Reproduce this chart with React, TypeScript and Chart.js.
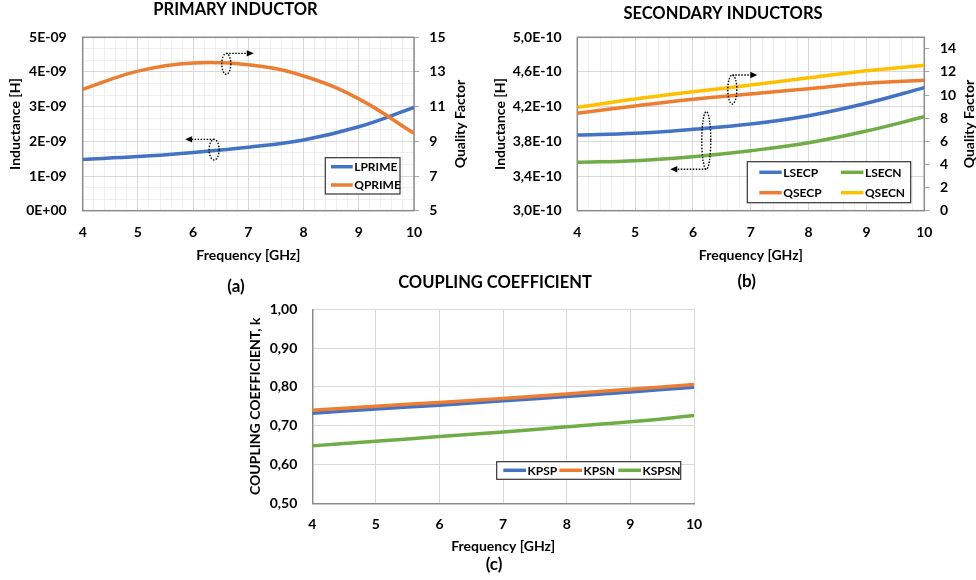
import React, { useEffect, useRef } from "react";
import { Chart, registerables } from "chart.js";

Chart.register(...registerables);

// ---- data -------------------------------------------------------------
const FREQ_GHZ = [4, 5, 6, 7, 8, 9, 10];

// (a) primary inductor: inductance [H] and quality factor
const LPRIME = [1.48e-9, 1.56e-9, 1.68e-9, 1.83e-9, 2.04e-9, 2.42e-9, 2.98e-9];
const QPRIME = [12.0, 13.05, 13.52, 13.42, 12.77, 11.45, 9.46];

// (b) secondary inductors
const LSECP = [3.873e-10, 3.893e-10, 3.939e-10, 4.0e-10, 4.096e-10, 4.239e-10, 4.419e-10];
const LSECN = [3.558e-10, 3.577e-10, 3.623e-10, 3.692e-10, 3.784e-10, 3.919e-10, 4.084e-10];
const QSECP = [8.43, 9.06, 9.64, 10.1, 10.55, 11.02, 11.28];
const QSECN = [8.94, 9.66, 10.29, 10.87, 11.5, 12.1, 12.58];

// (c) coupling coefficients
const KPSP = [0.732, 0.743, 0.753, 0.764, 0.775, 0.787, 0.799];
const KPSN = [0.74, 0.75, 0.76, 0.77, 0.782, 0.794, 0.806];
const KSPSN = [0.648, 0.66, 0.672, 0.684, 0.697, 0.71, 0.726];

// ---- styling ------------------------------------------------------------
const FONT = "Lato, 'Open Sans', sans-serif";
const BLUE = "#4472C4";
const ORANGE = "#ED7D31";
const GREEN = "#70AD47";
const GOLD = "#FFC000";
const GRID = "#d9d9d9";
const GRID_MINOR = "#efefef";
const FRAME = "#8c8c8c";
const TEXT = "#000000";

const tickFont = { family: FONT, size: 14, weight: "bold" as const };
const axisFont = { family: FONT, size: 14, weight: "bold" as const };

const pts = (ys: number[]) => FREQ_GHZ.map((x, i) => ({ x, y: ys[i] }));

const series = (label: string, color: string, values: number[], axis: string, i: number) => ({
  label,
  data: pts(values),
  yAxisID: axis,
  borderColor: color,
  backgroundColor: color,
  borderWidth: 3.5,
  pointRadius: 0,
  pointHoverRadius: 0,
  tension: 0.4,
  fill: false,
  order: -i, // later series are painted on top
});

const fixWidth = (w: number) => (s: any) => {
  s.width = w;
};
const fixHeight = (h: number) => (s: any) => {
  s.height = h;
};

// ---- decorations: titles, framed legend, dotted axis markers -------------
type Ring = { x: number; y: number; axis: string; rx: number; ry: number; from: "top" | "bottom"; dx: number };
type Deco = {
  title: { text: string; x: number; y: number };
  caption: { text: string; x: number; y: number };
  rightTitle?: { text: string; x: number };
  frame: boolean;
  legend: { x: number; y: number; w: number; h: number; cols: number[]; rows: number[]; sample: number };
  rings: Ring[];
};

function decorations(d: Deco) {
  return {
    id: "decorations",
    beforeDatasetsDraw(chart: any) {
      if (!d.frame) return;
      const { ctx, chartArea: a } = chart;
      ctx.save();
      ctx.strokeStyle = FRAME;
      ctx.lineWidth = 1.5;
      ctx.strokeRect(a.left, a.top, a.right - a.left, a.bottom - a.top);
      ctx.restore();
    },
    afterDatasetsDraw(chart: any) {
      const { ctx } = chart;
      // rings with arrows pointing to the axis a curve belongs to
      ctx.save();
      ctx.strokeStyle = "#000";
      ctx.fillStyle = "#000";
      ctx.lineWidth = 1.4;
      for (const r of d.rings) {
        const cx = chart.scales.x.getPixelForValue(r.x);
        const cy = chart.scales[r.axis].getPixelForValue(r.y);
        ctx.setLineDash([1.5, 1.5]);
        ctx.beginPath();
        ctx.ellipse(cx, cy, r.rx, r.ry, 0, 0, Math.PI * 2);
        ctx.stroke();
        const ay = r.from === "top" ? cy - r.ry : cy + r.ry;
        const tip = cx + r.dx;
        const dir = Math.sign(r.dx);
        ctx.beginPath();
        ctx.moveTo(cx, ay);
        ctx.lineTo(tip - dir * 6, ay);
        ctx.stroke();
        ctx.setLineDash([]);
        ctx.beginPath();
        ctx.moveTo(tip, ay);
        ctx.lineTo(tip - dir * 7, ay - 3.2);
        ctx.lineTo(tip - dir * 7, ay + 3.2);
        ctx.closePath();
        ctx.fill();
      }
      ctx.restore();

      // framed legend
      const L = d.legend;
      ctx.save();
      ctx.fillStyle = "#fff";
      ctx.fillRect(L.x, L.y, L.w, L.h);
      ctx.strokeStyle = "#333";
      ctx.lineWidth = 1.2;
      ctx.strokeRect(L.x, L.y, L.w, L.h);
      ctx.font = `bold 12px ${FONT}`;
      ctx.textBaseline = "middle";
      ctx.textAlign = "left";
      chart.data.datasets.forEach((ds: any, i: number) => {
        const col = i % L.cols.length;
        const row = Math.floor(i / L.cols.length);
        const sx = L.x + L.cols[col];
        const sy = L.y + L.rows[row];
        ctx.strokeStyle = ds.borderColor;
        ctx.lineWidth = 3.5;
        ctx.beginPath();
        ctx.moveTo(sx, sy);
        ctx.lineTo(sx + L.sample, sy);
        ctx.stroke();
        ctx.fillStyle = TEXT;
        ctx.fillText(ds.label, sx + L.sample + 1.5, sy + 0.5);
      });
      ctx.restore();
    },
    afterDraw(chart: any) {
      const { ctx, chartArea: a } = chart;
      ctx.save();
      ctx.fillStyle = TEXT;
      ctx.textAlign = "center";
      ctx.textBaseline = "middle";
      ctx.font = `bold 16.5px ${FONT}`;
      ctx.fillText(d.title.text, d.title.x, d.title.y);
      ctx.font = `bold 17px ${FONT}`;
      ctx.fillText(d.caption.text, d.caption.x, d.caption.y);
      if (d.rightTitle) {
        ctx.font = `bold 14px ${FONT}`;
        ctx.translate(d.rightTitle.x, (a.top + a.bottom) / 2);
        ctx.rotate(-Math.PI / 2);
        ctx.fillText(d.rightTitle.text, 0, 0);
      }
      ctx.restore();
    },
  };
}

// ---- shared axis builders ---------------------------------------------
function freqAxis(height: number, tickPad: number, titlePad: number, border: boolean) {
  return {
    type: "linear",
    position: "bottom",
    min: 4,
    max: 10,
    ticks: { stepSize: 1, padding: tickPad, font: tickFont, color: TEXT, maxRotation: 0 },
    grid: { color: GRID, drawTicks: false, lineWidth: 1 },
    border: { display: border, color: FRAME, width: 1.5 },
    title: { display: true, text: "Frequency [GHz]", font: axisFont, color: TEXT, padding: { top: 0, bottom: titlePad } },
    afterFit: fixHeight(height),
  };
}

function freqMinorAxis() {
  return {
    type: "linear",
    position: "bottom",
    min: 4,
    max: 10,
    ticks: { display: false, stepSize: 0.2 },
    grid: { color: GRID_MINOR, drawTicks: false, z: -2 },
    border: { display: false },
    afterFit: fixHeight(0),
  };
}

function qualityAxis(width: number, min: number, max: number, step: number, pad: number) {
  return {
    type: "linear",
    position: "right",
    min,
    max,
    ticks: { stepSize: step, padding: pad, font: tickFont, color: TEXT, includeBounds: false },
    grid: { drawOnChartArea: false, drawTicks: true, tickLength: 5, tickColor: "#a6a6a6", tickWidth: 1 },
    border: { display: false },
    afterFit: fixWidth(width),
  };
}

// ---- chart configurations ---------------------------------------------
function primaryConfig(): any {
  return {
    type: "line",
    data: {
      datasets: [series("LPRIME", BLUE, LPRIME, "y", 0), series("QPRIME", ORANGE, QPRIME, "y2", 1)],
    },
    options: {
      responsive: false,
      animation: false,
      events: [],
      layout: { padding: { top: 37.3, left: 0, right: 0, bottom: 0 } },
      plugins: { legend: { display: false }, title: { display: false }, tooltip: { enabled: false } },
      scales: {
        x: freqAxis(89.3, 13, 36.5, false),
        xMinor: freqMinorAxis(),
        y: {
          type: "linear",
          position: "left",
          min: 0,
          max: 5e-9,
          ticks: {
            stepSize: 1e-9,
            padding: 16,
            font: tickFont,
            color: TEXT,
            callback: (v: number) => (v === 0 ? "0E+00" : `${Math.round(v * 1e9)}E-09`),
          },
          grid: { color: GRID, drawTicks: false },
          border: { display: false },
          title: { display: true, text: "Inductance [H]", font: axisFont, color: TEXT, padding: { top: 6.6, bottom: 0 } },
          afterFit: fixWidth(82.7),
        },
        yMinor: {
          type: "linear",
          position: "left",
          min: 0,
          max: 15,
          ticks: { display: false, stepSize: 1 },
          grid: { color: GRID_MINOR, drawTicks: false, z: -2 },
          border: { display: false },
          afterFit: fixWidth(0),
        },
        y2: qualityAxis(66, 5, 15, 2, 10.3),
      },
    },
    plugins: [
      decorations({
        title: { text: "PRIMARY INDUCTOR", x: 235.5, y: 9.5 },
        caption: { text: "(a)", x: 236, y: 286.7 },
        rightTitle: { text: "Quality Factor", x: 460 },
        frame: true,
        legend: { x: 325.3, y: 157.7, w: 74.7, h: 36.3, cols: [5.7], rows: [9, 27.3], sample: 21.7 },
        rings: [
          { x: 6.6, y: 13.47, axis: "y2", rx: 4.5, ry: 10.5, from: "top", dx: 27.5 },
          { x: 6.38, y: 1.76e-9, axis: "y", rx: 5, ry: 10.3, from: "top", dx: -29 },
        ],
      }),
    ],
  };
}

function secondaryConfig(): any {
  return {
    type: "line",
    data: {
      datasets: [
        series("LSECP", BLUE, LSECP, "y", 0),
        series("LSECN", GREEN, LSECN, "y", 1),
        series("QSECP", ORANGE, QSECP, "y2", 2),
        series("QSECN", GOLD, QSECN, "y2", 3),
      ],
    },
    options: {
      responsive: false,
      animation: false,
      events: [],
      layout: { padding: { top: 37.3, left: 0, right: 0, bottom: 0 } },
      plugins: { legend: { display: false }, title: { display: false }, tooltip: { enabled: false } },
      scales: {
        x: freqAxis(89.3, 13, 36.5, false),
        xMinor: freqMinorAxis(),
        y: {
          type: "linear",
          position: "left",
          min: 3.0e-10,
          max: 5.0e-10,
          ticks: {
            stepSize: 0.4e-10,
            padding: 15.6,
            font: tickFont,
            color: TEXT,
            callback: (v: number) => `${(v * 1e10).toFixed(1).replace(".", ",")}E-10`,
          },
          grid: { color: GRID, drawTicks: false },
          border: { display: false },
          title: { display: true, text: "Inductance [H]", font: axisFont, color: TEXT, padding: { top: 12.3, bottom: 0 } },
          afterFit: fixWidth(97.3),
        },
        y2: qualityAxis(51.7, 0, 15, 2, 10.7),
      },
    },
    plugins: [
      decorations({
        title: { text: "SECONDARY INDUCTORS", x: 243, y: 13.3 },
        caption: { text: "(b)", x: 266.7, y: 281.7 },
        rightTitle: { text: "Quality Factor", x: 489 },
        frame: true,
        legend: { x: 267.3, y: 161.7, w: 163.4, h: 41, cols: [12, 93.7], rows: [10.6, 31], sample: 22.4 },
        rings: [
          { x: 6.68, y: 10.48, axis: "y2", rx: 4.5, ry: 14.5, from: "top", dx: 25 },
          { x: 6.23, y: 3.81e-10, axis: "y", rx: 4.5, ry: 28.8, from: "bottom", dx: -36 },
        ],
      }),
    ],
  };
}

function couplingConfig(): any {
  return {
    type: "line",
    data: {
      datasets: [
        series("KPSP", BLUE, KPSP, "y", 0),
        series("KPSN", ORANGE, KPSN, "y", 1),
        series("KSPSN", GREEN, KSPSN, "y", 2),
      ],
    },
    options: {
      responsive: false,
      animation: false,
      events: [],
      layout: { padding: { top: 39.3, left: 0, right: 26, bottom: 0 } },
      plugins: { legend: { display: false }, title: { display: false }, tooltip: { enabled: false } },
      scales: {
        x: freqAxis(76.7, 12.3, 25.5, true),
        y: {
          type: "linear",
          position: "left",
          min: 0.5,
          max: 1.0,
          ticks: {
            stepSize: 0.1,
            padding: 15,
            font: tickFont,
            color: TEXT,
            callback: (v: number) => v.toFixed(2).replace(".", ","),
          },
          grid: { color: GRID, drawTicks: false },
          border: { display: true, color: FRAME, width: 1.5 },
          title: {
            display: true,
            text: "COUPLING COEFFICIENT, k",
            font: axisFont,
            color: TEXT,
            padding: { top: 6.6, bottom: 0 },
          },
          afterFit: fixWidth(72.3),
        },
      },
    },
    plugins: [
      decorations({
        title: { text: "COUPLING COEFFICIENT", x: 255, y: 12.3 },
        caption: { text: "(c)", x: 254, y: 295 },
        frame: false,
        legend: { x: 256.7, y: 191.7, w: 184, h: 17.6, cols: [6.6, 62.6, 121.6], rows: [8.6], sample: 22.7 },
        rings: [],
      }),
    ],
  };
}

// ---- components ---------------------------------------------------------
function Panel(props: { left: number; top: number; width: number; height: number; make: () => any }) {
  const ref = useRef<HTMLCanvasElement>(null);
  useEffect(() => {
    const chart = new Chart(ref.current as HTMLCanvasElement, props.make());
    return () => chart.destroy();
  }, []);
  return (
    <canvas
      ref={ref}
      width={props.width}
      height={props.height}
      style={{ position: "absolute", left: props.left, top: props.top, width: props.width, height: props.height }}
    />
  );
}

export default function App() {
  return (
    <div
      style={{
        position: "fixed",
        left: 0,
        top: 0,
        width: 976,
        height: 580,
        background: "#ffffff",
        overflow: "hidden",
      }}
    >
      <Panel left={0} top={0} width={480} height={300} make={primaryConfig} />
      <Panel left={480} top={0} width={496} height={300} make={secondaryConfig} />
      <Panel left={240} top={270} width={480} height={310} make={couplingConfig} />
    </div>
  );
}
